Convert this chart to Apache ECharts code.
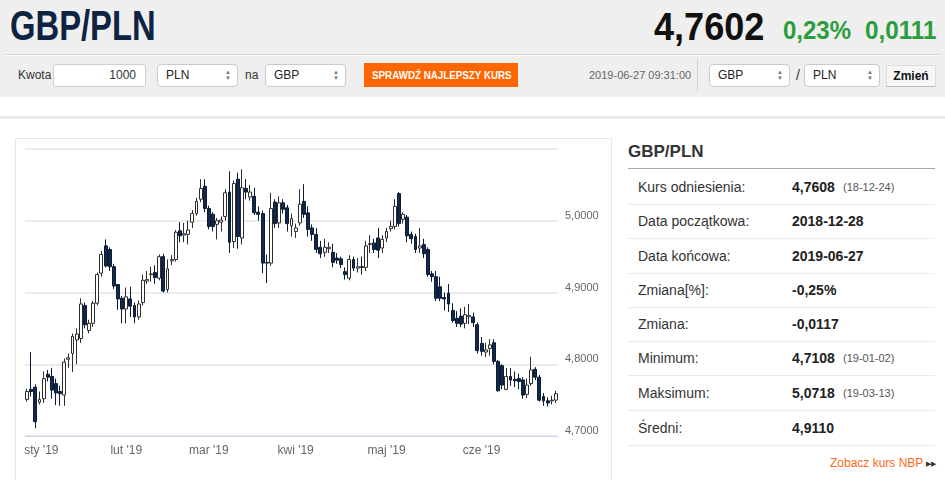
<!DOCTYPE html>
<html>
<head>
<meta charset="utf-8">
<script src="https://cdn.jsdelivr.net/npm/echarts/dist/echarts.min.js"></script>
<style>
  body { margin: 0; width: 945px; height: 480px; overflow: hidden; background: #fff;
         font-family: 'Liberation Sans', Arial, sans-serif; color: #333; position: relative; }
  .abs { position: absolute; white-space: nowrap; }
  .sq { display: inline-block; transform-origin: left center; }
  .sel { position: absolute; top: 64px; height: 23px; background: #fff; border: 1px solid #c9c9c9;
         border-radius: 4px; box-sizing: border-box; font-size: 12px; line-height: 21px; padding-left: 8px; color: #222; }
  .sel .arr { position: absolute; right: 6px; top: 4px; font-size: 6px; line-height: 6px; color: #777; }
  .lbl { position: absolute; font-size: 12px; line-height: 23px; top: 64px; color: #333; }
  .row { position: absolute; left: 628px; width: 307px; height: 34px; border-bottom: 1px solid #ebebeb;
         font-size: 14px; line-height: 34px; }
  .row .k { position: absolute; left: 10px; color: #333; }
  .row .v { position: absolute; left: 164px; font-weight: bold; color: #222; }
  .row .d { position: absolute; left: 215px; font-size: 11px; color: #555; }
</style>
</head>
<body>
<div class="abs" style="left:0;top:0;width:945px;height:97px;background:#efefef;"></div>
<div class="abs" style="left:10px;top:5px;font-size:42px;line-height:42px;font-weight:bold;color:#0d2342;">
  <span class="sq" style="transform:scaleX(0.78)">GBP/PLN</span></div>
<div class="abs" style="left:654px;top:8px;font-size:38px;line-height:38px;font-weight:bold;color:#111;">
  <span class="sq" style="transform:scaleX(0.95)">4,7602</span></div>
<div class="abs" style="left:783px;top:18px;font-size:25px;line-height:25px;font-weight:bold;color:#2a9d3d;">
  <span class="sq" style="transform:scaleX(0.96)">0,23%</span></div>
<div class="abs" style="left:865px;top:18px;font-size:25px;line-height:25px;font-weight:bold;color:#2a9d3d;">
  <span class="sq" style="transform:scaleX(0.97)">0,0111</span></div>
<div class="abs" style="left:5px;top:54px;width:935px;height:0;border-top:1px solid #d6d6d6;border-bottom:1px solid #fafafa;"></div>

<div class="lbl" style="left:18px;">Kwota</div>
<div class="abs" style="left:53px;top:64px;width:93px;height:23px;background:#fff;border:1px solid #cfcfcf;border-radius:3px;box-sizing:border-box;font-size:12px;line-height:21px;text-align:right;padding-right:9px;">1000</div>
<div class="sel" style="left:157px;width:81px;">PLN<span class="arr">&#9650;<br>&#9660;</span></div>
<div class="lbl" style="left:245px;">na</div>
<div class="sel" style="left:265px;width:81px;">GBP<span class="arr">&#9650;<br>&#9660;</span></div>
<div class="abs" style="left:364px;top:63px;width:154px;height:24px;background:#ff6600;color:#fff;font-size:11px;line-height:24px;font-weight:bold;">
  <span class="sq" style="transform:scaleX(0.89);margin-left:8px;">SPRAWDŹ NAJLEPSZY KURS</span></div>
<div class="abs" style="left:589px;top:64px;font-size:11px;line-height:23px;color:#666;">2019-06-27 09:31:00</div>
<div class="abs" style="left:697px;top:58px;width:1px;height:34px;background:#d5d5d5;"></div>
<div class="sel" style="left:709px;width:81px;">GBP<span class="arr">&#9650;<br>&#9660;</span></div>
<div class="lbl" style="left:796px;font-size:14px;">/</div>
<div class="sel" style="left:804px;width:76px;">PLN<span class="arr">&#9650;<br>&#9660;</span></div>
<div class="abs" style="left:886px;top:65px;width:50px;height:22px;background:#f6f6f6;border:1px solid #dcdcdc;border-bottom-color:#bdbdbd;box-sizing:border-box;font-size:12px;line-height:20px;font-weight:bold;color:#111;text-align:center;">Zmień</div>

<div class="abs" style="left:0;top:116px;width:945px;height:3px;background:#ececec;"></div>

<div class="abs" style="left:15px;top:138px;width:597px;height:360px;border:1px solid #e6e6e6;box-sizing:border-box;"></div>
<div id="chart" class="abs" style="left:16px;top:139px;width:596px;height:341px;"></div>

<div class="abs" style="left:628px;top:142px;font-size:17px;line-height:20px;font-weight:bold;color:#333;">GBP/PLN</div>
<div class="abs" style="left:628px;top:168px;width:307px;height:1px;background:#a8a8a8;"></div>
<div class="row" style="top:170px;"><span class="k">Kurs odniesienia:</span><span class="v">4,7608</span><span class="d">(18-12-24)</span></div>
<div class="row" style="top:204px;"><span class="k">Data początkowa:</span><span class="v">2018-12-28</span></div>
<div class="row" style="top:239px;"><span class="k">Data końcowa:</span><span class="v">2019-06-27</span></div>
<div class="row" style="top:273px;"><span class="k">Zmiana[%]:</span><span class="v">-0,25%</span></div>
<div class="row" style="top:307px;"><span class="k">Zmiana:</span><span class="v">-0,0117</span></div>
<div class="row" style="top:341px;"><span class="k">Minimum:</span><span class="v">4,7108</span><span class="d">(19-01-02)</span></div>
<div class="row" style="top:376px;"><span class="k">Maksimum:</span><span class="v">5,0718</span><span class="d">(19-03-13)</span></div>
<div class="row" style="top:411px;"><span class="k">Średni:</span><span class="v">4,9110</span></div>
<div class="abs" style="left:830px;top:455px;font-size:12px;line-height:16px;color:#ff6a1a;">Zobacz kurs NBP <span style="font-size:7px;color:#333;vertical-align:1px;">&#9654;&#9654;</span></div>

<script>
const dates = [
  '2018-12-28','2018-12-31',
  '2019-01-02','2019-01-03','2019-01-04','2019-01-07','2019-01-08','2019-01-09','2019-01-10','2019-01-11',
  '2019-01-14','2019-01-15','2019-01-16','2019-01-17','2019-01-18','2019-01-21','2019-01-22','2019-01-23',
  '2019-01-24','2019-01-25','2019-01-28','2019-01-29','2019-01-30','2019-01-31',
  '2019-02-01','2019-02-04','2019-02-05','2019-02-06','2019-02-07','2019-02-08','2019-02-11','2019-02-12',
  '2019-02-13','2019-02-14','2019-02-15','2019-02-18','2019-02-19','2019-02-20','2019-02-21','2019-02-22',
  '2019-02-25','2019-02-26','2019-02-27','2019-02-28',
  '2019-03-01','2019-03-04','2019-03-05','2019-03-06','2019-03-07','2019-03-08','2019-03-11','2019-03-12',
  '2019-03-13','2019-03-14','2019-03-15','2019-03-18','2019-03-19','2019-03-20','2019-03-21','2019-03-22',
  '2019-03-25','2019-03-26','2019-03-27','2019-03-28','2019-03-29',
  '2019-04-01','2019-04-02','2019-04-03','2019-04-04','2019-04-05','2019-04-08','2019-04-09','2019-04-10',
  '2019-04-11','2019-04-12','2019-04-15','2019-04-16','2019-04-17','2019-04-18','2019-04-19','2019-04-22',
  '2019-04-23','2019-04-24','2019-04-25','2019-04-26','2019-04-29','2019-04-30',
  '2019-05-01','2019-05-02','2019-05-03','2019-05-06','2019-05-07','2019-05-08','2019-05-09','2019-05-10',
  '2019-05-13','2019-05-14','2019-05-15','2019-05-16','2019-05-17','2019-05-20','2019-05-21','2019-05-22',
  '2019-05-23','2019-05-24','2019-05-27','2019-05-28','2019-05-29','2019-05-30','2019-05-31',
  '2019-06-03','2019-06-04','2019-06-05','2019-06-06','2019-06-07','2019-06-10','2019-06-11','2019-06-12',
  '2019-06-13','2019-06-14','2019-06-17','2019-06-18','2019-06-19','2019-06-20','2019-06-21','2019-06-24',
  '2019-06-25','2019-06-26','2019-06-27'
];

const opens = [
  4.751,4.765,4.768,4.747,4.752,4.786,4.783,4.773,4.762,4.757,
  4.807,4.815,4.834,4.836,4.882,4.847,4.857,4.885,4.927,4.965,
  4.960,4.936,4.911,4.892,4.877,4.891,4.882,4.866,4.886,4.916,
  4.925,4.928,4.920,4.950,4.904,4.944,4.946,4.986,4.980,4.981,
  4.998,5.010,5.030,5.048,5.017,5.009,4.995,4.998,5.006,5.040,
  4.971,5.058,4.976,5.045,5.033,5.034,5.012,5.010,4.942,4.941,
  5.026,4.997,5.025,5.018,4.993,4.985,4.997,5.027,5.011,4.990,
  4.981,4.963,4.956,4.961,4.956,4.948,4.947,4.929,4.920,4.946,
  4.934,4.936,4.935,4.967,4.969,4.976,4.962,4.976,4.989,4.992,
  5.038,5.002,5.005,4.981,4.978,4.962,4.967,4.960,4.926,4.922,
  4.908,4.893,4.899,4.875,4.864,4.867,4.857,4.866,4.866,4.855,
  4.829,4.817,4.822,4.830,4.804,4.798,4.765,4.783,4.779,4.780,
  4.778,4.758,4.773,4.793,4.782,4.755,4.749,4.749,4.750
];
const closes = [
  4.762,4.762,4.720,4.751,4.780,4.782,4.764,4.760,4.759,4.803,
  4.809,4.839,4.842,4.884,4.855,4.857,4.885,4.925,4.953,4.937,
  4.936,4.909,4.891,4.877,4.894,4.881,4.866,4.884,4.917,4.918,
  4.926,4.921,4.950,4.902,4.933,4.946,4.984,4.979,4.982,4.987,
  5.010,5.027,5.045,5.017,4.992,4.992,5.000,5.001,5.039,4.970,
  5.052,4.978,5.046,5.040,5.040,5.011,5.009,4.941,4.941,5.017,
  4.996,5.025,5.016,4.996,5.003,4.990,5.023,5.009,4.988,4.981,
  4.960,4.954,4.963,4.963,4.942,4.945,4.939,4.925,4.946,4.934,
  4.936,4.935,4.965,4.968,4.960,4.959,4.974,4.985,4.992,5.020,
  4.996,5.009,4.979,4.975,4.960,4.965,4.954,4.925,4.922,4.892,
  4.892,4.891,4.884,4.861,4.857,4.856,4.869,4.868,4.858,4.819,
  4.818,4.820,4.827,4.804,4.763,4.771,4.783,4.778,4.777,4.776,
  4.757,4.771,4.792,4.782,4.750,4.749,4.746,4.750,4.759
];
const lows = [
  4.748,4.755,4.7108,4.744,4.746,4.776,4.752,4.743,4.742,4.742,
  4.795,4.789,4.800,4.830,4.850,4.843,4.852,4.882,4.922,4.935,
  4.930,4.905,4.876,4.857,4.857,4.866,4.857,4.862,4.882,4.912,
  4.915,4.912,4.917,4.900,4.900,4.938,4.943,4.970,4.970,4.967,
  4.990,5.007,5.026,5.012,4.988,4.985,4.974,4.985,5.000,4.955,
  4.962,4.961,4.967,5.030,5.028,5.008,5.000,4.927,4.913,4.937,
  4.990,4.990,5.010,4.985,4.978,4.976,4.993,5.004,4.978,4.972,
  4.955,4.948,4.950,4.955,4.935,4.940,4.934,4.918,4.917,4.930,
  4.928,4.925,4.930,4.955,4.955,4.948,4.955,4.970,4.985,4.988,
  4.992,4.996,4.970,4.968,4.955,4.955,4.948,4.922,4.915,4.888,
  4.888,4.875,4.873,4.858,4.852,4.852,4.850,4.856,4.852,4.815,
  4.812,4.810,4.812,4.800,4.762,4.765,4.764,4.770,4.768,4.765,
  4.752,4.753,4.770,4.778,4.748,4.742,4.741,4.744,4.746
];
const highs = [
  4.766,4.817,4.772,4.762,4.790,4.792,4.795,4.780,4.770,4.808,
  4.815,4.843,4.850,4.892,4.886,4.862,4.888,4.928,4.958,4.974,
  4.963,4.940,4.912,4.895,4.907,4.908,4.886,4.889,4.925,4.930,
  4.936,4.938,4.953,4.954,4.946,4.952,4.987,4.998,4.997,5.000,
  5.015,5.032,5.058,5.058,5.021,5.012,5.004,5.006,5.044,5.069,
  5.056,5.067,5.0718,5.058,5.050,5.046,5.020,5.014,4.953,5.039,
  5.030,5.034,5.030,5.022,5.010,4.996,5.044,5.051,5.020,4.995,
  4.990,4.972,4.975,4.970,4.968,4.955,4.950,4.935,4.952,4.950,
  4.948,4.950,4.972,4.980,4.975,4.990,4.980,4.990,5.000,5.030,
  5.040,5.012,5.008,4.985,4.982,4.990,4.975,4.963,4.930,4.930,
  4.922,4.900,4.912,4.885,4.874,4.878,4.880,4.884,4.872,4.858,
  4.838,4.830,4.835,4.835,4.806,4.800,4.795,4.795,4.790,4.787,
  4.782,4.780,4.8105,4.796,4.785,4.760,4.754,4.756,4.763
];

const monthNames = ['sty','lut','mar','kwi','maj','cze','lip','sie','wrz','paź','lis','gru'];

// first trading day of each month (skip the leading december days)
const monthStarts = dates
  .map((d, i) => (i > 0 && d.slice(5, 7) !== dates[i - 1].slice(5, 7)) ? i : -1)
  .filter(i => i >= 0);

const candles = dates.map((d, i) => [opens[i], closes[i], lows[i], highs[i]]);

const chart = echarts.init(document.getElementById('chart'));

const option = {
  animation: false,
  grid: { left: 9, right: 54, top: 10, bottom: 44 },
  xAxis: {
    type: 'category',
    data: dates,
    boundaryGap: true,
    axisLine: { lineStyle: { color: '#ccd6eb', width: 1 } },
    axisTick: {
      alignWithLabel: true,
      length: 6,
      interval: (idx) => monthStarts.includes(idx),
      lineStyle: { color: '#ccd6eb' }
    },
    axisLabel: {
      interval: (idx) => monthStarts.includes(idx),
      margin: 9,
      color: '#666',
      fontSize: 12,
      fontFamily: 'Liberation Sans',
      formatter: (value) => {
        const txt = monthNames[parseInt(value.slice(5, 7), 10) - 1] + " '" + value.slice(2, 4);
        // the first label is pushed inward so it stays inside the plot
        return value === dates[monthStarts[0]] ? '{first|' + txt + '}' : txt;
      },
      rich: {
        first: { padding: [0, 0, 0, 12], color: '#666', fontSize: 12, fontFamily: 'Liberation Sans' }
      }
    },
    splitLine: { show: false }
  },
  yAxis: {
    type: 'value',
    position: 'right',
    min: 4.7,
    max: 5.1,
    interval: 0.1,
    axisLine: { show: false },
    axisTick: { show: false },
    splitLine: { lineStyle: { color: '#e4e4e4', width: 1.5 } },
    axisLabel: {
      margin: 7,
      color: '#666',
      fontSize: 11,
      fontFamily: 'Liberation Sans',
      verticalAlign: 'bottom',
      lineHeight: 10,
      formatter: (v) => v > 5.05 ? '' : v.toFixed(4).replace('.', ',')
    }
  },
  series: [
    {
      type: 'candlestick',
      data: candles,
      barWidth: 3.4,
      itemStyle: {
        color: '#ffffff',
        color0: '#0f2a4e',
        borderColor: '#2e2e2e',
        borderColor0: '#0b1b33',
        borderWidth: 1
      }
    }
  ]
};

chart.setOption(option);
</script>
</body>
</html>
